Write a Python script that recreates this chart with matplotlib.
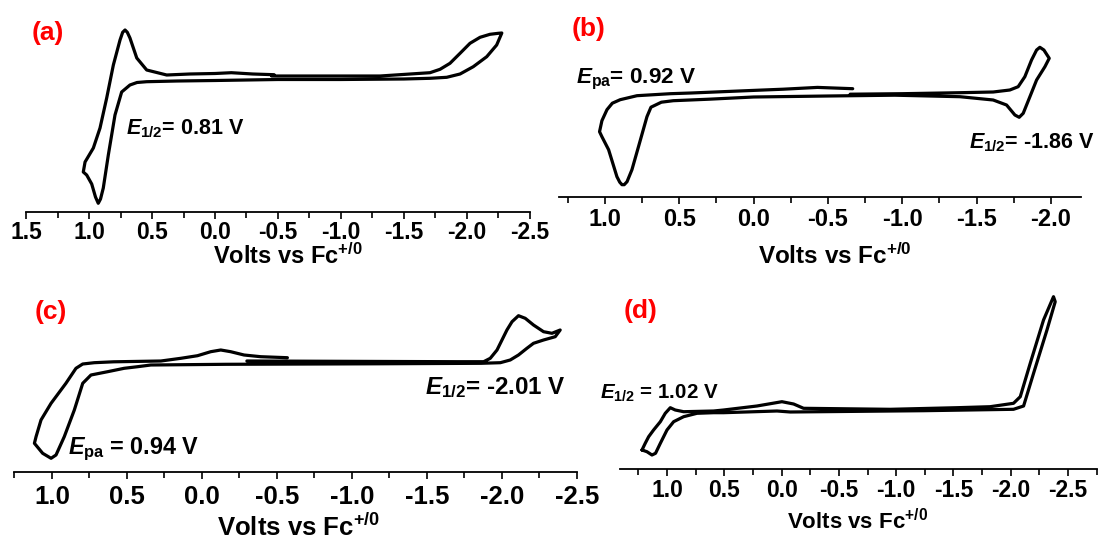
import matplotlib
matplotlib.use('Agg')
import matplotlib.pyplot as plt
from matplotlib.ticker import MultipleLocator, FormatStrFormatter

plt.rcParams['font.family'] = ['Liberation Sans', 'DejaVu Sans']
plt.rcParams['font.weight'] = 'bold'
plt.rcParams['axes.unicode_minus'] = False
plt.rcParams['mathtext.fontset'] = 'custom'
plt.rcParams['mathtext.rm'] = 'Liberation Sans:bold'
plt.rcParams['mathtext.it'] = 'Liberation Sans:italic:bold'
plt.rcParams['mathtext.bf'] = 'Liberation Sans:bold'

# ---- cyclic voltammograms, potential in V vs Fc+/0, current in arb. units ----
# (a)
volts_a = [-0.45, -0.8, -1.312, -1.709, -1.789, -1.868, -1.948, -2.027, -2.107,
           -2.186, -2.252, -2.28,
           -2.239, -2.16, -2.053, -1.948, -1.842, -1.709, -1.5, -1.0, -0.5, 0.0,
           0.3, 0.543, 0.62, 0.676, 0.742, 0.795, 0.848, 0.888, 0.91, 0.928, 0.95,
           0.98, 1.02, 1.047,
           1.033, 0.967, 0.914, 0.861, 0.808, 0.755, 0.734, 0.715, 0.697, 0.676,
           0.622, 0.543, 0.384, 0.2, 0.0, -0.13, -0.3, -0.47]
curr_a = [13.6, 13.6, 13.6, 13.93, 14.27, 14.87, 15.87, 16.87, 17.47,
          17.77, 17.87, 17.9,
          16.7, 15.53, 14.53, 13.8, 13.47, 13.37, 13.3, 13.25, 13.25, 13.15,
          13.1, 13.03, 12.95, 12.7, 12.0, 9.7, 5.7, 2.4, 1.3, 0.87, 1.5,
          2.8, 3.7, 4.0,
          5.0, 6.4, 8.4, 11.4, 14.7, 17.2, 17.97, 18.2, 17.97, 17.4,
          15.4, 14.2, 13.7, 13.8, 13.85, 13.93, 13.8, 13.73]

# (b)
volts_b = [-0.667, -0.43, -0.2, 0.0, 0.42, 0.56, 0.784, 0.897, 0.95, 0.986, 1.02,
           1.036,
           1.02, 0.975, 0.919, 0.9, 0.885, 0.87, 0.851, 0.818, 0.774, 0.717, 0.69,
           0.62, 0.54, 0.3, 0.0, -0.5, -0.95, -1.388, -1.612, -1.702, -1.758,
           -1.787, -1.814, -1.859, -1.904, -1.96, -1.989,
           -1.953, -1.926, -1.904, -1.87, -1.825, -1.78, -1.724, -1.612, -1.388,
           -1.0, -0.65]
curr_b = [10.8, 10.93, 10.75, 10.63, 10.37, 10.3, 10.1, 9.7, 9.35, 8.7, 7.6,
          6.5,
          6.0, 4.7, 2.0, 1.45, 1.2, 1.2, 1.5, 2.7, 5.0, 8.0, 8.95,
          9.45, 9.6, 9.75, 9.97, 10.07, 10.15, 10.0, 9.67, 9.17, 8.17,
          7.94, 8.34, 10.0, 11.67, 13.0, 13.84,
          14.67, 14.94, 14.67, 13.67, 12.0, 11.0, 10.67, 10.47, 10.4,
          10.3, 10.25]

# (c)
volts_c = [-0.57, -0.392, -0.281, -0.192, -0.126, -0.059, 0.029, 0.14, 0.273,
           0.588, 0.717, 0.794, 0.839, 0.906, 1.005, 1.072, 1.105, 1.116,
           1.061, 1.005, 0.972, 0.917, 0.85, 0.794, 0.739, 0.628, 0.518, 0.428,
           0.34, -0.16, -1.16, -1.861, -1.989, -2.055, -2.11, -2.166, -2.21,
           -2.277, -2.355, -2.388,
           -2.333, -2.277, -2.21, -2.155, -2.11, -2.067, -2.033, -2.0, -1.967,
           -1.922, -1.878, -1.7, -0.9, -0.3]
curr_c = [11.46, 11.56, 11.73, 12.06, 12.23, 12.06, 11.66, 11.4, 11.13,
          11.05, 10.96, 10.83, 10.4, 8.9, 6.9, 5.23, 3.56, 2.9,
          1.9, 1.4, 1.73, 3.56, 6.23, 8.9, 9.73, 10.06, 10.4, 10.56,
          10.73, 10.8, 10.85, 10.9, 10.96, 11.23, 11.73, 12.4, 12.9,
          13.23, 13.56, 14.23,
          13.9, 14.06, 14.73, 15.4, 15.66, 15.06, 14.23, 13.23, 12.23,
          11.4, 11.06, 11.06, 11.1, 11.13]

# (d)
volts_d = [1.218, 1.19, 1.16, 1.117, 1.058, 1.015, 0.971, 0.928, 0.855, 0.593,
           0.506, 0.215, -0.003, -0.105, -0.192, -0.949, -1.53, -1.82, -2.024,
           -2.083, -2.17, -2.286, -2.373,
           -2.388, -2.316, -2.199, -2.112, -2.024, -1.239, -0.076, 0.04, 0.506,
           0.593, 0.738, 0.855, 0.942, 1.0, 1.058, 1.10, 1.131, 1.175, 1.218]
curr_d = [1.93, 2.6, 3.26, 3.93, 4.76, 5.6, 6.16, 5.93, 5.76, 5.83,
          5.93, 6.33, 6.76, 6.53, 6.1, 6.0, 6.16, 6.26, 6.6,
          7.26, 10.6, 14.93, 17.26,
          16.76, 13.93, 9.6, 6.33, 6.0, 5.86, 5.73, 5.83, 5.66,
          5.66, 5.6, 5.26, 4.76, 3.93, 2.6, 1.6, 1.43, 1.76, 1.93]

panel_tags = ['(a)', '(b)', '(c)', '(d)']
xlabel_text = r'Volts vs Fc$^{+/0}$'

W, H = 1102, 539
fig = plt.figure(figsize=(W / 100, H / 100), dpi=100)


def fx(px):
    return px / W


def fy(py):
    return 1 - py / H


def make_panel(x0, x1, ybase, ytop, xlim, ymax, volts, curr, tick_fs, pad):
    ax = fig.add_axes([fx(x0), fy(ybase), fx(x1 - x0), (ybase - ytop) / H])
    ax.plot(volts, curr, color='black', lw=2.3, solid_joinstyle='round',
            solid_capstyle='round')
    ax.set_xlim(*xlim)
    ax.set_ylim(0, ymax)
    for s in ['left', 'right', 'top']:
        ax.spines[s].set_visible(False)
    ax.spines['bottom'].set_linewidth(1.3)
    ax.set_yticks([])
    ax.xaxis.set_major_locator(MultipleLocator(0.5))
    ax.xaxis.set_minor_locator(MultipleLocator(0.25))
    ax.xaxis.set_major_formatter(FormatStrFormatter('%.1f'))
    ax.tick_params(axis='x', which='major', direction='out', length=5, width=1.2,
                   labelsize=tick_fs, pad=pad)
    ax.tick_params(axis='x', which='minor', direction='out', length=4, width=1.2)
    for lab in ax.get_xticklabels():
        lab.set_fontweight('bold')
    ax.patch.set_alpha(0)
    return ax


ax_a = make_panel(26.3, 529.5, 212, 20, (1.5, -2.5), 19.2, volts_a, curr_a, 16.5, 1.5)
ax_b = make_panel(558.8, 1080.6, 196.7, 20, (1.31, -2.2), 17.67, volts_b, curr_b, 17, 3)
ax_c = make_panel(14.3, 577, 472.3, 300, (1.25, -2.5), 17.23, volts_c, curr_c, 18.5, 4)
ax_d = make_panel(620, 1096.7, 469.3, 290, (1.41, -2.75), 17.93, volts_d, curr_d, 16.5, 2)

# x labels
fig.text(fx(288), fy(264), xlabel_text, ha='center', va='baseline', fontsize=17, fontweight='bold')
fig.text(fx(835), fy(264), xlabel_text, ha='center', va='baseline', fontsize=17.5, fontweight='bold')
fig.text(fx(299), fy(536), xlabel_text, ha='center', va='baseline', fontsize=18.5, fontweight='bold')
fig.text(fx(858), fy(529), xlabel_text, ha='center', va='baseline', fontsize=16, fontweight='bold')

# panel tags
tag_pos = [(31.6, 33), (572, 29), (35, 312), (624, 311)]
for tag, (px, py) in zip(panel_tags, tag_pos):
    fig.text(fx(px), fy(py), tag, ha='left', va='center', fontsize=19,
             fontweight='bold', color='#ff0000')

# potential annotations
fig.text(fx(126), fy(134), r'$E_{1/2}$= 0.81 V', ha='left', va='baseline', fontsize=15.5, fontweight='bold')
fig.text(fx(576), fy(83), r'$E_{\mathrm{pa}}$= 0.92 V', ha='left', va='baseline', fontsize=16.2, fontweight='bold')
fig.text(fx(969), fy(148), r'$E_{1/2}$= -1.86 V', ha='left', va='baseline', fontsize=15.5, fontweight='bold')
fig.text(fx(68), fy(454), r'$E_{\mathrm{pa}}$ = 0.94 V', ha='left', va='baseline', fontsize=16.8, fontweight='bold')
fig.text(fx(425), fy(394), r'$E_{1/2}$= -2.01 V', ha='left', va='baseline', fontsize=17.4, fontweight='bold')
fig.text(fx(600), fy(399), r'$E_{1/2}$ = 1.02 V', ha='left', va='baseline', fontsize=14.8, fontweight='bold')

fig.savefig('out.png', dpi=100)
